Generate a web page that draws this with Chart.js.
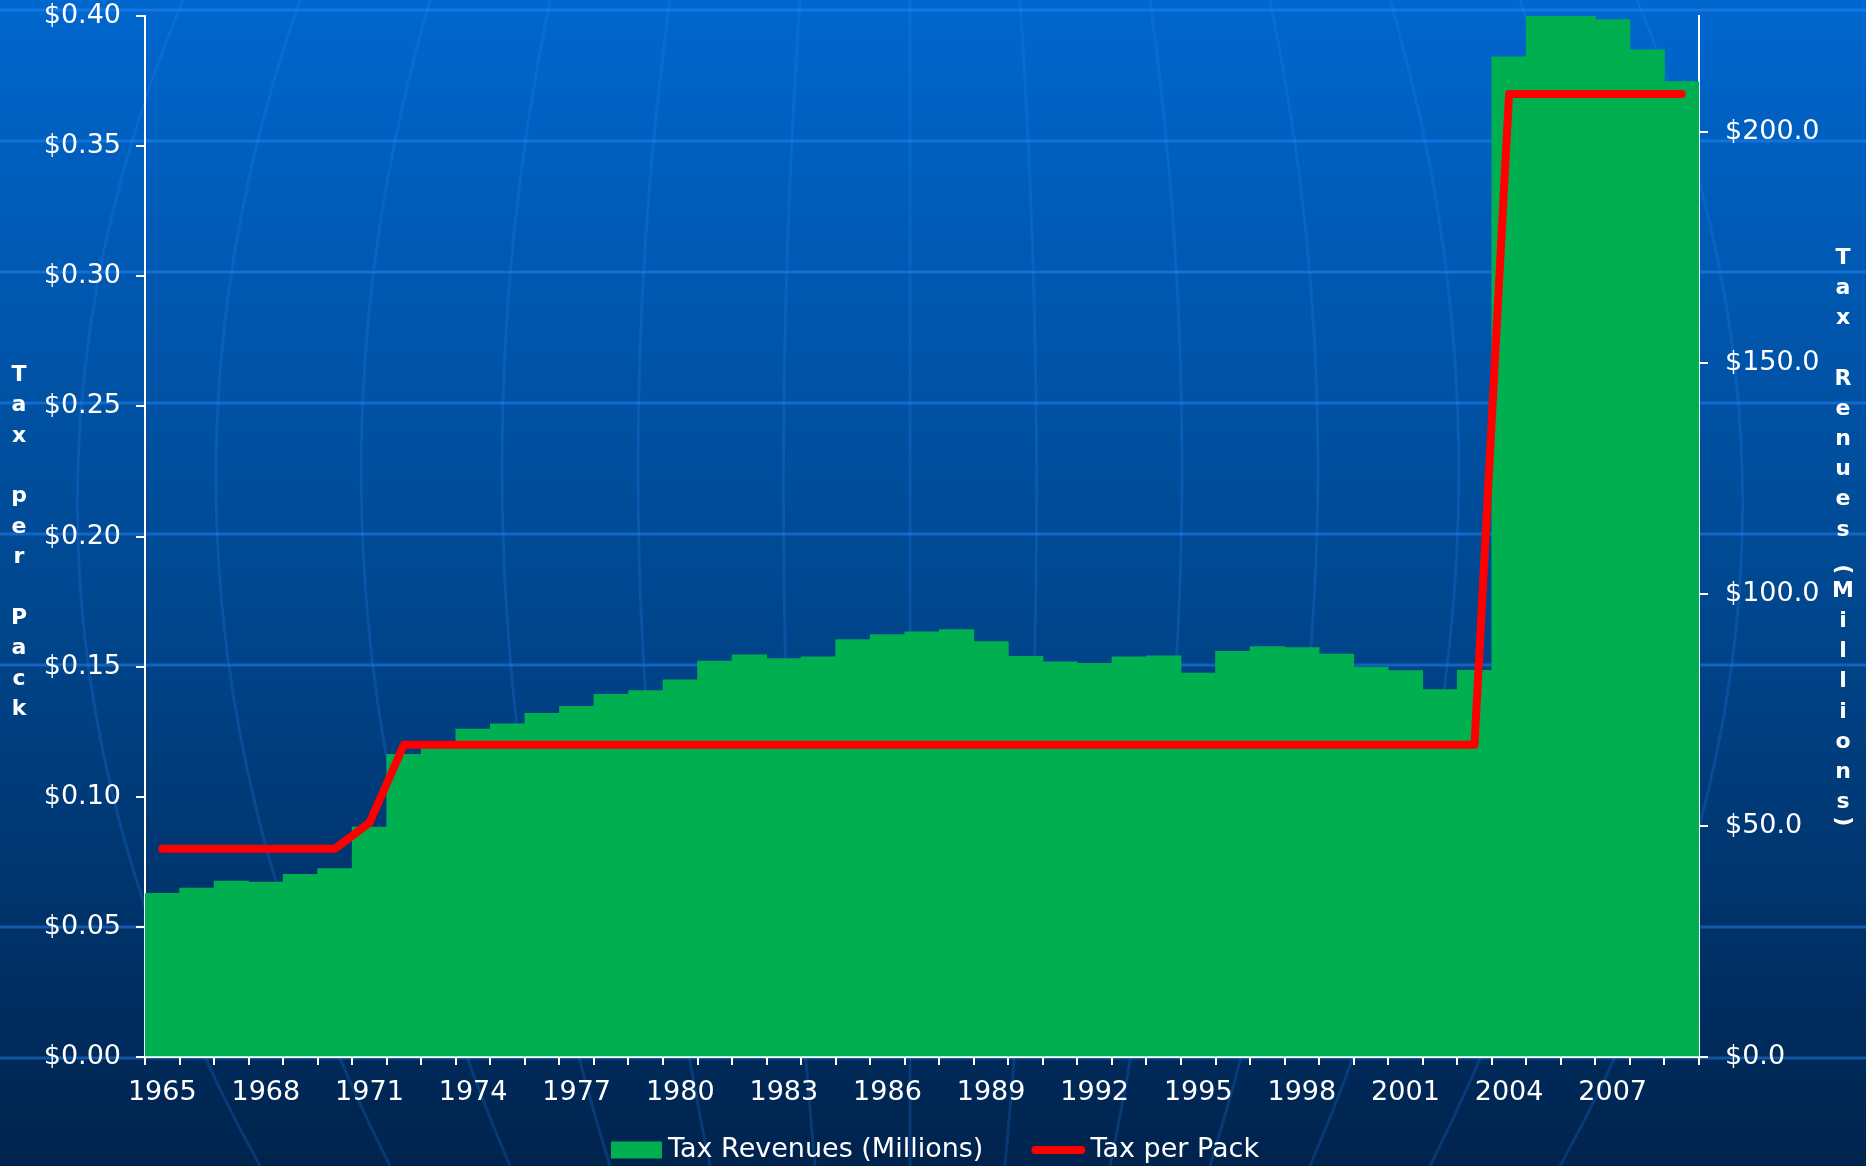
<!DOCTYPE html>
<html>
<head>
<meta charset="utf-8">
<script src="https://cdn.jsdelivr.net/npm/chart.js@4.4.1/dist/chart.umd.min.js"></script>
<style>
html,body{margin:0;padding:0;background:#003a7a;overflow:hidden}
canvas{display:block}
</style>
</head>
<body>
<canvas id="c" width="1866" height="1166"></canvas>
<script>
// ---- data ----
const years = ['1965','1966','1967','1968','1969','1970','1971','1972','1973','1974',
               '1975','1976','1977','1978','1979','1980','1981','1982','1983','1984',
               '1985','1986','1987','1988','1989','1990','1991','1992','1993','1994',
               '1995','1996','1997','1998','1999','2000','2001','2002','2003','2004',
               '2005','2006','2007','2008','2009'];
const revenues = [35.4, 36.5, 38.0, 37.8, 39.5, 40.7, 49.7, 65.4, 66.8, 70.9,
                  72.0, 74.3, 75.8, 78.4, 79.2, 81.5, 85.6, 86.9, 86.1, 86.5,
                  90.2, 91.3, 91.9, 92.4, 89.8, 86.6, 85.4, 85.1, 86.5, 86.7,
                  83.0, 87.7, 88.7, 88.5, 87.1, 84.3, 83.5, 79.4, 83.6, 216.2,
                  225.0, 225.0, 224.2, 217.7, 210.8];
const taxPerPack = [0.08, 0.08, 0.08, 0.08, 0.08, 0.08, 0.09, 0.12, 0.12, 0.12,
                    0.12, 0.12, 0.12, 0.12, 0.12, 0.12, 0.12, 0.12, 0.12, 0.12,
                    0.12, 0.12, 0.12, 0.12, 0.12, 0.12, 0.12, 0.12, 0.12, 0.12,
                    0.12, 0.12, 0.12, 0.12, 0.12, 0.12, 0.12, 0.12, 0.12, 0.37,
                    0.37, 0.37, 0.37, 0.37, 0.37];
const seriesNames = ['Tax Revenues (Millions)', 'Tax per Pack'];
const leftTitle = 'Tax per Pack';
const rightTitle = 'Tax Renues (Millions)';
const leftMax = 0.40, leftStep = 0.05;
const rightMax = 225, rightStep = 50;
const xLabelEvery = 3;

// ---- styles ----
const BAR = '#00b050';
const LINE = '#ff0000';
const WHITE = '#ffffff';
const FONT = '"DejaVu Sans", Verdana, sans-serif';
const FS = 27;

const bgPlugin = {
  id: 'bg',
  beforeDraw(chart) {
    const ctx = chart.ctx, W = chart.width, H = chart.height;
    ctx.save();
    const g = ctx.createLinearGradient(0, 0, 0, H);
    g.addColorStop(0, '#0067ce');
    g.addColorStop(0.5, '#004891');
    g.addColorStop(1, '#00234d');
    ctx.fillStyle = g;
    ctx.fillRect(0, 0, W, H);
    // globe latitude lines
    ctx.strokeStyle = 'rgba(40,140,255,0.45)';
    ctx.lineWidth = 3;
    [10, 141, 272, 403, 534, 665, 927, 1058].forEach(y => {
      ctx.beginPath(); ctx.moveTo(0, y); ctx.lineTo(W, y); ctx.stroke();
    });
    // globe meridians
    const cx = 910;
    const mer = [[727, 830, 650], [610, 690, 520], [480, 545, 400], [360, 405, 300], [240, 270, 200], [110, 126, 95]];
    ctx.strokeStyle = 'rgba(40,140,255,0.2)';
    for (const s of [-1, 1]) {
      for (const [t, m, b] of mer) {
        const x0 = cx + s * t, x1 = cx + s * m, x2 = cx + s * b;
        const cpx = 2 * x1 - (x0 + x2) / 2;
        const cpy = 2 * 583 - H / 2;
        ctx.beginPath(); ctx.moveTo(x0, 0); ctx.quadraticCurveTo(cpx, cpy, x2, H); ctx.stroke();
      }
    }
    ctx.beginPath(); ctx.moveTo(cx, 0); ctx.lineTo(cx, H); ctx.stroke();
    ctx.restore();
  }
};

function drawStacked(ctx, text, x, y0, step) {
  let y = y0;
  let prev = null;
  for (let i = 0; i < text.length; i++) {
    const ch = text[i];
    if (i > 0) {
      if (ch === '(') y += (prev === ' ' ? 0.31 : 1.31) * step;
      else if (prev === '(') y += step * 0.72;
      else if (ch === ')') y += step * 0.62;
      else y += step;
    }
    if (ch !== ' ') {
      if (ch === '(' || ch === ')') {
        ctx.save();
        ctx.translate(x, y);
        ctx.rotate(Math.PI / 2);
        ctx.fillText(ch, 0, 0);
        ctx.restore();
      } else {
        ctx.fillText(ch, x, y);
      }
    }
    prev = ch;
  }
}

const decorPlugin = {
  id: 'decor',
  afterDraw(chart) {
    const ctx = chart.ctx;
    ctx.save();
    ctx.fillStyle = WHITE;
    ctx.textAlign = 'center';
    ctx.textBaseline = 'middle';
    ctx.font = 'bold 22px ' + FONT;
    drawStacked(ctx, leftTitle, 19, 375, 30.4);
    drawStacked(ctx, rightTitle, 1843, 258, 30.2);

    // legend
    ctx.font = FS + 'px ' + FONT;
    ctx.textAlign = 'left';
    const w1 = ctx.measureText(seriesNames[0]).width;
    const w2 = ctx.measureText(seriesNames[1]).width;
    const total = 51 + 6 + w1 + 48 + 54 + 5 + w2;
    let x = 935 - total / 2;
    const y = 1150;
    ctx.fillStyle = chart.data.datasets[0].backgroundColor;
    ctx.fillRect(x, y - 8.5, 51, 17);
    x += 57;
    ctx.fillStyle = WHITE;
    ctx.fillText(seriesNames[0], x, y);
    x += w1 + 48;
    ctx.strokeStyle = chart.data.datasets[1].borderColor;
    ctx.lineWidth = 8;
    ctx.lineCap = 'round';
    ctx.beginPath(); ctx.moveTo(x + 4, y); ctx.lineTo(x + 50, y); ctx.stroke();
    x += 59;
    ctx.fillText(seriesNames[1], x, y);
    ctx.restore();
  }
};

const axisCommon = {
  grid: { display: true, drawOnChartArea: false, drawTicks: true, tickLength: 9, color: WHITE, lineWidth: 2 },
  border: { display: true, color: WHITE, width: 2 },
};

function fitVertical(width) {
  return function (s) { s.width = width; s.paddingTop = 16; s.paddingBottom = 0; };
}

new Chart(document.getElementById('c'), {
  type: 'bar',
  data: {
    labels: years,
    datasets: [
      {
        type: 'bar',
        label: seriesNames[0],
        data: revenues,
        yAxisID: 'y1',
        backgroundColor: BAR,
        borderWidth: 0,
        barPercentage: 1.0,
        categoryPercentage: 1.0,
        order: 1
      },
      {
        type: 'line',
        label: seriesNames[1],
        data: taxPerPack,
        yAxisID: 'y',
        borderColor: LINE,
        backgroundColor: LINE,
        borderWidth: 8,
        borderCapStyle: 'round',
        borderJoinStyle: 'round',
        pointRadius: 0,
        pointHoverRadius: 0,
        tension: 0,
        fill: false,
        order: 0
      }
    ]
  },
  options: {
    responsive: false,
    animation: false,
    devicePixelRatio: 1,
    layout: { padding: { top: 0, left: 0, right: 0, bottom: 0 } },
    plugins: { legend: { display: false }, tooltip: { enabled: false } },
    scales: {
      x: {
        ...axisCommon,
        grid: { ...axisCommon.grid, tickLength: 8, offset: true },
        ticks: {
          color: WHITE,
          font: { family: FONT, size: FS },
          autoSkip: false,
          maxRotation: 0,
          minRotation: 0,
          padding: 12,
          callback: function (val, idx) { return idx % xLabelEvery === 0 ? this.getLabelForValue(val) : ''; }
        },
        afterFit(s) { s.height = 109; s.paddingLeft = 0; s.paddingRight = 0; }
      },
      y: {
        ...axisCommon,
        position: 'left',
        min: 0,
        max: leftMax,
        ticks: {
          color: WHITE,
          font: { family: FONT, size: FS },
          stepSize: leftStep,
          padding: 15,
          callback: v => '$' + Number(v).toFixed(2)
        },
        afterFit: fitVertical(145)
      },
      y1: {
        ...axisCommon,
        position: 'right',
        min: 0,
        max: rightMax,
        ticks: {
          color: WHITE,
          font: { family: FONT, size: FS },
          stepSize: rightStep,
          padding: 17,
          callback: v => '$' + Number(v).toFixed(1)
        },
        afterBuildTicks(s) { s.ticks = s.ticks.filter(t => Math.abs(t.value % rightStep) < 1e-9); },
        afterFit: fitVertical(167)
      }
    }
  },
  plugins: [bgPlugin, decorPlugin]
});
</script>
</body>
</html>
